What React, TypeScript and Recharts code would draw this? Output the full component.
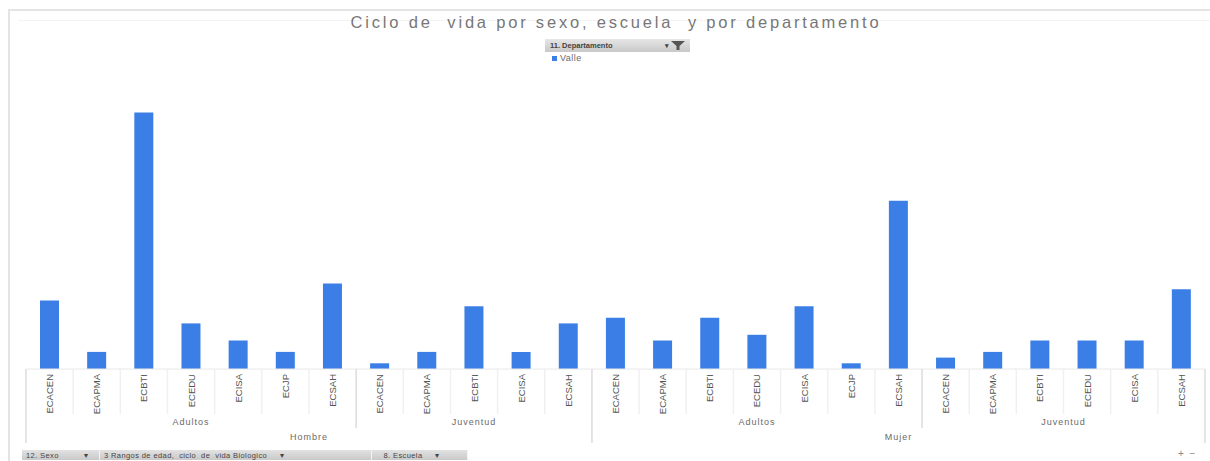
import React from "react"
import { BarChart, Bar, XAxis, YAxis, Legend } from "recharts"

const escuelas = [
  "ECACEN", "ECAPMA", "ECBTI", "ECEDU", "ECISA", "ECJP", "ECSAH",
  "ECACEN", "ECAPMA", "ECBTI", "ECISA", "ECSAH",
  "ECACEN", "ECAPMA", "ECBTI", "ECEDU", "ECISA", "ECJP", "ECSAH",
  "ECACEN", "ECAPMA", "ECBTI", "ECEDU", "ECISA", "ECSAH",
]
const rangos = [
  "Adultos", "Adultos", "Adultos", "Adultos", "Adultos", "Adultos", "Adultos",
  "Juventud", "Juventud", "Juventud", "Juventud", "Juventud",
  "Adultos", "Adultos", "Adultos", "Adultos", "Adultos", "Adultos", "Adultos",
  "Juventud", "Juventud", "Juventud", "Juventud", "Juventud", "Juventud",
]
const sexos = [
  "Hombre", "Hombre", "Hombre", "Hombre", "Hombre", "Hombre", "Hombre",
  "Hombre", "Hombre", "Hombre", "Hombre", "Hombre",
  "Mujer", "Mujer", "Mujer", "Mujer", "Mujer", "Mujer", "Mujer",
  "Mujer", "Mujer", "Mujer", "Mujer", "Mujer", "Mujer",
]
const valle = [12, 3, 45, 8, 5, 3, 15, 1, 3, 11, 3, 8, 9, 5, 9, 6, 11, 1, 29.5, 2, 3, 5, 5, 5, 14]

const data = escuelas.map((e, i) => ({
  key: `${sexos[i]}|${rangos[i]}|${e}`,
  escuela: e,
  valle: valle[i],
}))

const BLUE = "#3b7fe6"
const TEXT = "#6a6a6a"
const FONT = "'Liberation Sans', Arial, sans-serif"

const countFrom = (i: number, same: (a: number, b: number) => boolean) => {
  let j = i
  while (j + 1 < data.length && same(i, j + 1)) j++
  return j - i + 1
}

const SchoolTick = (props: any) => {
  const { x, y, payload, index } = props
  const i = index
  const half = payload?.offset || 1179 / data.length / 2
  const left = x - half
  const sexFirst = i === 0 || sexos[i] !== sexos[i - 1]
  const ageFirst = sexFirst || rangos[i] !== rangos[i - 1]
  const lineLen = sexFirst ? 74 : ageFirst ? 59 : 45
  const lineColor = sexFirst || ageFirst ? "#dcdcdc" : "#f0f0f0"
  const ageCount = countFrom(i, (a, b) => sexos[a] === sexos[b] && rangos[a] === rangos[b])
  const sexCount = countFrom(i, (a, b) => sexos[a] === sexos[b])
  return (
    <g>
      <line x1={left} x2={left} y1={y} y2={y + lineLen} stroke={lineColor} strokeWidth={1.5} />
      {i === data.length - 1 && (
        <line x1={x + half} x2={x + half} y1={y} y2={y + 74} stroke="#dcdcdc" strokeWidth={1.5} />
      )}
      <text
        x={x}
        y={y + 5}
        transform={`rotate(-90 ${x} ${y + 5})`}
        textAnchor="end"
        dominantBaseline="central"
        fontSize={9.5}
        fill="#555"
        fontFamily={FONT}
      >
        {escuelas[i]}
      </text>
      {ageFirst && (
        <text x={left + ageCount * half} y={y + 56} textAnchor="middle" fontSize={9} letterSpacing={1} fill={TEXT} fontFamily={FONT}>
          {rangos[i]}
        </text>
      )}
      {sexFirst && (
        <text x={left + sexCount * half} y={y + 71} textAnchor="middle" fontSize={9} letterSpacing={1} fill={TEXT} fontFamily={FONT}>
          {sexos[i]}
        </text>
      )}
    </g>
  )
}

const LegendContent = () => (
  <div style={{ display: "flex", alignItems: "center", fontFamily: FONT, fontSize: 9, color: TEXT, letterSpacing: 0.5 }}>
    <span style={{ display: "inline-block", width: 5, height: 5, background: BLUE, marginRight: 3 }} />
    Valle
  </div>
)

const btn: React.CSSProperties = {
  display: "inline-flex",
  alignItems: "center",
  height: 10,
  padding: "0 4px",
  boxSizing: "border-box",
  background: "linear-gradient(#e2e2e2, #c9c9c9)",
  borderRight: "1px solid #f4f4f4",
  whiteSpace: "pre",
}

export default function App() {
  return (
    <div style={{ position: "fixed", left: 0, top: 0, width: 1210, height: 461, background: "#fff", overflow: "hidden" }}>
      {/* frame */}
      <div style={{ position: "absolute", left: 8, top: 9, right: 0, bottom: 0, borderTop: "2px solid #e4e4e4", borderLeft: "2px solid #e4e4e4" }} />
      <div style={{ position: "absolute", left: 18, top: 20, right: 0, height: 1, background: "#f3f3f3" }} />

      <div
        style={{
          position: "absolute",
          left: 0,
          width: 1232,
          top: 13,
          textAlign: "center",
          fontFamily: FONT,
          fontSize: 16.5,
          letterSpacing: 2.8,
          color: "#777",
          whiteSpace: "pre",
        }}
      >
        {"Ciclo de  vida por sexo, escuela  y por departamento"}
      </div>

      {/* filter field button */}
      <div
        style={{
          position: "absolute",
          left: 545,
          top: 39,
          width: 145,
          height: 13,
          background: "linear-gradient(#e6e6e6, #c8c8c8)",
          fontFamily: FONT,
          fontSize: 7.5,
          fontWeight: "bold",
          color: "#444",
          display: "flex",
          alignItems: "center",
          boxSizing: "border-box",
          paddingLeft: 5,
        }}
      >
        <span style={{ flex: 1 }}>11. Departamento</span>
        <span style={{ fontSize: 7, marginRight: 2 }}>▾</span>
        <svg width={14} height={9} style={{ marginRight: 5 }}>
          <path d="M0 0 H14 L8.5 5 V9 H5.5 V5 Z" fill="#555" />
        </svg>
      </div>

      <div style={{ position: "absolute", left: 0, top: 0 }}>
        <BarChart width={1210} height={461} data={data} margin={{ top: 84, right: 5, bottom: 12, left: 26 }}>
          <XAxis
            dataKey="key"
            interval={0}
            height={80}
            tickLine={false}
            tickSize={0}
            tickMargin={0}
            axisLine={{ stroke: "#e8e8e8" }}
            tick={<SchoolTick />}
          />
          <YAxis hide domain={[0, 50]} />
          <Legend
            layout="horizontal"
            verticalAlign="middle"
            content={<LegendContent />}
            wrapperStyle={{ top: 53, left: 552, width: 60, height: 12 }}
          />
          <Bar dataKey="valle" name="Valle" fill={BLUE} barSize={19} isAnimationActive={false} />
        </BarChart>
      </div>

      {/* bottom field buttons */}
      <div
        style={{
          position: "absolute",
          left: 22,
          top: 450,
          display: "flex",
          fontFamily: FONT,
          fontSize: 7.5,
          color: "#444",
          letterSpacing: 0.4,
        }}
      >
        <span style={{ ...btn, width: 78 }}>{"12. Sexo          ▾"}</span>
        <span style={{ ...btn, width: 272 }}>{"3 Rangos de edad,  ciclo  de  vida Biologico     ▾"}</span>
        <span style={{ ...btn, width: 96 }}>{"   8. Escuela     ▾"}</span>
      </div>
      <div style={{ position: "absolute", left: 1178, top: 448, fontFamily: FONT, fontSize: 10, color: "#888", whiteSpace: "pre" }}>
        {"+  −"}
      </div>
    </div>
  )
}
